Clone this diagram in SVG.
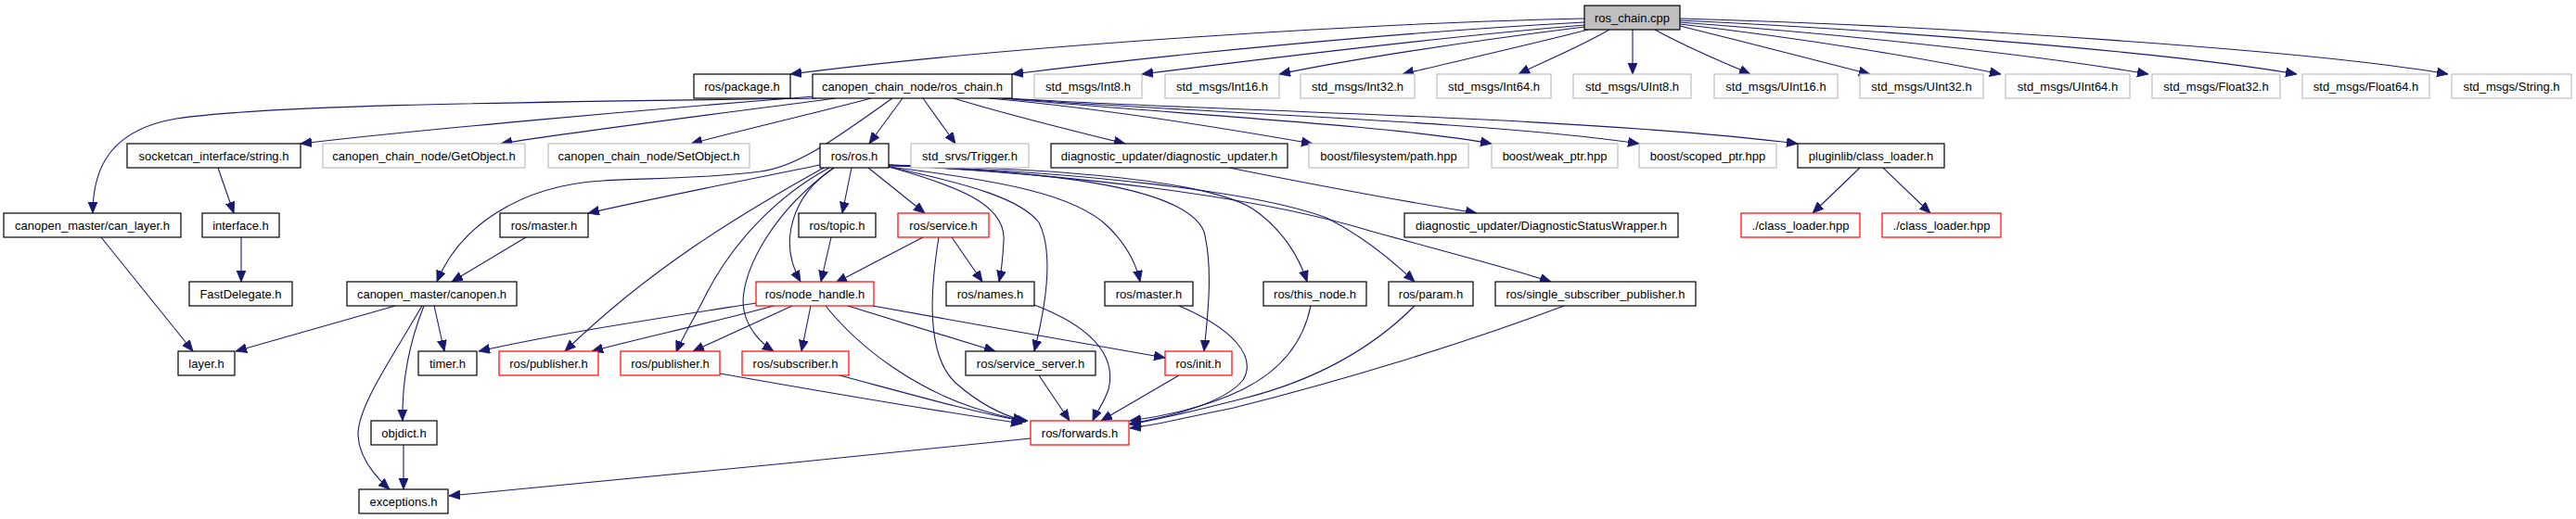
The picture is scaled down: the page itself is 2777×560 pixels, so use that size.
<svg xmlns="http://www.w3.org/2000/svg" width="2777" height="560" viewBox="0 0 2777 560">
<style>
rect{fill:#fff;stroke:#000;stroke-width:1.2}
.g rect{stroke:#bfbfbf}
.r rect{stroke:#ff0000}
.root rect{fill:#bfbfbf}
text{font-family:"Liberation Sans",Arial,Helvetica,sans-serif;font-size:13px;fill:#000;text-anchor:middle}
#edges path{fill:none;stroke:#191970;stroke-width:1.1;marker-end:url(#ah)}
</style>
<defs>
<marker id="ah" markerUnits="userSpaceOnUse" markerWidth="14" markerHeight="12" refX="12" refY="5" orient="auto">
<path d="M0,0 L12,5 L0,10 z" fill="#191970" stroke="#191970" stroke-width="0.8"/>
</marker>
</defs>
<rect x="0" y="0" width="2777" height="560" style="fill:#fff;stroke:none"/>
<g id="edges">
<path d="M1708,20 C1500,24 1100,48 852,80"/>
<path d="M1708,24 C1500,35 1250,60 1091,80"/>
<path d="M1708,27 C1550,40 1350,65 1231,80"/>
<path d="M1708,29 C1580,45 1450,65 1379,80"/>
<path d="M1712,32 C1650,48 1570,66 1512,80"/>
<path d="M1735,32 C1700,52 1665,66 1637,80"/>
<path d="M1760,32 L1760,80"/>
<path d="M1784,32 C1820,52 1855,66 1887,80"/>
<path d="M1811,28 C1880,45 1960,66 2016,80"/>
<path d="M1811,26 C1950,42 2080,64 2157,80"/>
<path d="M1811,24 C2000,38 2200,60 2316,80"/>
<path d="M1811,22 C2050,33 2350,58 2476,80"/>
<path d="M1811,20 C2100,28 2500,55 2639,80"/>
<path d="M880,106 C600,110 300,112 190,128 C120,140 100,180 100,230"/>
<path d="M878,104 C700,118 450,140 324,155"/>
<path d="M901,106 C780,122 620,142 540,155"/>
<path d="M939,106 C880,122 800,140 745,155"/>
<path d="M962,106 C900,150 860,180 820,185 C760,193 700,192 650,195 C560,200 495,245 471,304"/>
<path d="M973,106 L937,155"/>
<path d="M995,106 L1030,155"/>
<path d="M1028,106 C1090,125 1160,142 1213,155"/>
<path d="M1066,106 C1200,118 1330,140 1415,155"/>
<path d="M1080,106 C1250,122 1500,135 1608,155"/>
<path d="M1085,106 C1250,120 1600,130 1767,155"/>
<path d="M1088,106 C1250,118 1700,125 1938,155"/>
<path d="M235,181 L252,230"/>
<path d="M260,256 L260,304"/>
<path d="M109,256 L208,379"/>
<path d="M426,330 L254,379"/>
<path d="M468,330 L479,379"/>
<path d="M457,330 C445,360 433,400 434,454"/>
<path d="M455,330 C420,390 385,440 386,470 C387,490 400,510 420,528"/>
<path d="M435,480 L435,528"/>
<path d="M1111,473 C900,495 700,515 484,535"/>
<path d="M567,256 L487,304"/>
<path d="M884,178 C800,195 700,215 634,230"/>
<path d="M888,181 C800,230 700,290 609,379"/>
<path d="M894,181 C840,210 790,260 760,320 C745,350 735,365 729,380"/>
<path d="M899,181 C855,210 838,260 863,304"/>
<path d="M899,181 C830,230 795,300 802,335 C806,355 820,370 834,379"/>
<path d="M918,181 L908,230"/>
<path d="M936,181 L997,230"/>
<path d="M958,180 C1030,200 1085,220 1082,260 C1081,280 1079,295 1077,304"/>
<path d="M958,180 C1050,200 1100,215 1120,240 C1135,270 1130,320 1115,379"/>
<path d="M958,180 C1080,195 1160,210 1195,245 C1215,265 1225,285 1229,304"/>
<path d="M958,179 C1150,185 1280,205 1298,250 C1308,290 1302,340 1298,379"/>
<path d="M958,178 C1150,182 1300,195 1350,225 C1380,245 1400,275 1409,304"/>
<path d="M958,178 C1150,185 1350,205 1430,235 C1470,255 1505,285 1525,304"/>
<path d="M958,178 C1150,188 1350,210 1480,250 C1560,272 1630,290 1672,304"/>
<path d="M1325,181 C1420,200 1530,220 1592,230"/>
<path d="M896,256 L885,304"/>
<path d="M995,256 L901,305"/>
<path d="M1026,256 L1059,304"/>
<path d="M1012,256 C1005,300 995,380 1030,413 C1055,435 1080,448 1104,454"/>
<path d="M2005,181 L1954,230"/>
<path d="M2030,181 L2081,230"/>
<path d="M815,327 C700,345 600,360 516,379"/>
<path d="M834,330 C760,350 690,365 638,379"/>
<path d="M854,330 L747,379"/>
<path d="M874,330 L864,379"/>
<path d="M890,330 C930,380 990,420 1050,440 C1075,448 1090,452 1108,454"/>
<path d="M914,330 L1073,379"/>
<path d="M941,330 C1050,350 1180,372 1256,386"/>
<path d="M776,403 C900,425 1020,445 1102,457"/>
<path d="M905,405 C980,425 1050,445 1106,455"/>
<path d="M1120,405 L1153,454"/>
<path d="M1115,329 C1170,350 1205,380 1195,420 C1190,435 1182,445 1178,454"/>
<path d="M1271,405 L1187,454"/>
<path d="M1271,330 C1330,355 1355,385 1340,410 C1320,435 1260,450 1218,457"/>
<path d="M1413,330 C1405,370 1380,400 1340,420 C1300,440 1250,450 1218,454"/>
<path d="M1525,330 C1480,375 1420,410 1340,430 C1290,443 1250,452 1218,458"/>
<path d="M1686,330 C1580,370 1450,410 1330,440 C1280,450 1250,458 1218,462"/>
</g>
<g id="n_ros_chain_cpp" class="root"><rect x="1708" y="6" width="103" height="26"/><text x="1759.5" y="23.5">ros_chain.cpp</text></g>
<g id="n_package"><rect x="748" y="80" width="104" height="26"/><text x="800" y="97.5">ros/package.h</text></g>
<g id="n_ros_chain_h"><rect x="876" y="80" width="215" height="26"/><text x="983.5" y="97.5">canopen_chain_node/ros_chain.h</text></g>
<g id="n_int8" class="g"><rect x="1115" y="80" width="116" height="26"/><text x="1173" y="97.5">std_msgs/Int8.h</text></g>
<g id="n_int16" class="g"><rect x="1256" y="80" width="123" height="26"/><text x="1317.5" y="97.5">std_msgs/Int16.h</text></g>
<g id="n_int32" class="g"><rect x="1402" y="80" width="123" height="26"/><text x="1463.5" y="97.5">std_msgs/Int32.h</text></g>
<g id="n_int64" class="g"><rect x="1549" y="80" width="123" height="26"/><text x="1610.5" y="97.5">std_msgs/Int64.h</text></g>
<g id="n_uint8" class="g"><rect x="1696" y="80" width="127" height="26"/><text x="1759.5" y="97.5">std_msgs/UInt8.h</text></g>
<g id="n_uint16" class="g"><rect x="1848" y="80" width="133" height="26"/><text x="1914.5" y="97.5">std_msgs/UInt16.h</text></g>
<g id="n_uint32" class="g"><rect x="2005" y="80" width="133" height="26"/><text x="2071.5" y="97.5">std_msgs/UInt32.h</text></g>
<g id="n_uint64" class="g"><rect x="2162" y="80" width="134" height="26"/><text x="2229" y="97.5">std_msgs/UInt64.h</text></g>
<g id="n_float32" class="g"><rect x="2320" y="80" width="138" height="26"/><text x="2389" y="97.5">std_msgs/Float32.h</text></g>
<g id="n_float64" class="g"><rect x="2482" y="80" width="137" height="26"/><text x="2550.5" y="97.5">std_msgs/Float64.h</text></g>
<g id="n_string" class="g"><rect x="2643" y="80" width="129" height="26"/><text x="2707.5" y="97.5">std_msgs/String.h</text></g>
<g id="n_sc_string"><rect x="137" y="155" width="187" height="26"/><text x="230.5" y="172.5">socketcan_interface/string.h</text></g>
<g id="n_getobject" class="g"><rect x="348" y="155" width="218" height="26"/><text x="457" y="172.5">canopen_chain_node/GetObject.h</text></g>
<g id="n_setobject" class="g"><rect x="591" y="155" width="217" height="26"/><text x="699.5" y="172.5">canopen_chain_node/SetObject.h</text></g>
<g id="n_ros_h"><rect x="884" y="155" width="74" height="26"/><text x="921" y="172.5">ros/ros.h</text></g>
<g id="n_trigger" class="g"><rect x="982" y="155" width="127" height="26"/><text x="1045.5" y="172.5">std_srvs/Trigger.h</text></g>
<g id="n_diag_updater"><rect x="1133" y="155" width="255" height="26"/><text x="1260.5" y="172.5">diagnostic_updater/diagnostic_updater.h</text></g>
<g id="n_path" class="g"><rect x="1411" y="155" width="172" height="26"/><text x="1497" y="172.5">boost/filesystem/path.hpp</text></g>
<g id="n_weak" class="g"><rect x="1608" y="155" width="136" height="26"/><text x="1676" y="172.5">boost/weak_ptr.hpp</text></g>
<g id="n_scoped" class="g"><rect x="1767" y="155" width="148" height="26"/><text x="1841" y="172.5">boost/scoped_ptr.hpp</text></g>
<g id="n_pluginlib"><rect x="1938" y="155" width="158" height="26"/><text x="2017" y="172.5">pluginlib/class_loader.h</text></g>
<g id="n_can_layer"><rect x="4" y="230" width="191" height="26"/><text x="99.5" y="247.5">canopen_master/can_layer.h</text></g>
<g id="n_interface"><rect x="218" y="230" width="83" height="26"/><text x="259.5" y="247.5">interface.h</text></g>
<g id="n_master_a"><rect x="539" y="230" width="95" height="26"/><text x="586.5" y="247.5">ros/master.h</text></g>
<g id="n_topic"><rect x="861" y="230" width="83" height="26"/><text x="902.5" y="247.5">ros/topic.h</text></g>
<g id="n_service" class="r"><rect x="968" y="230" width="98" height="26"/><text x="1017" y="247.5">ros/service.h</text></g>
<g id="n_dsw"><rect x="1514" y="230" width="295" height="26"/><text x="1661.5" y="247.5">diagnostic_updater/DiagnosticStatusWrapper.h</text></g>
<g id="n_cl1" class="r"><rect x="1877" y="230" width="128" height="26"/><text x="1941" y="247.5">./class_loader.hpp</text></g>
<g id="n_cl2" class="r"><rect x="2029" y="230" width="128" height="26"/><text x="2093" y="247.5">./class_loader.hpp</text></g>
<g id="n_fastdelegate"><rect x="204" y="304" width="111" height="26"/><text x="259.5" y="321.5">FastDelegate.h</text></g>
<g id="n_canopen"><rect x="374" y="304" width="183" height="26"/><text x="465.5" y="321.5">canopen_master/canopen.h</text></g>
<g id="n_node_handle" class="r"><rect x="815" y="304" width="127" height="26"/><text x="878.5" y="321.5">ros/node_handle.h</text></g>
<g id="n_names"><rect x="1020" y="304" width="95" height="26"/><text x="1067.5" y="321.5">ros/names.h</text></g>
<g id="n_master_b"><rect x="1191" y="304" width="95" height="26"/><text x="1238.5" y="321.5">ros/master.h</text></g>
<g id="n_this_node"><rect x="1362" y="304" width="111" height="26"/><text x="1417.5" y="321.5">ros/this_node.h</text></g>
<g id="n_param"><rect x="1497" y="304" width="91" height="26"/><text x="1542.5" y="321.5">ros/param.h</text></g>
<g id="n_ssp"><rect x="1612" y="304" width="216" height="26"/><text x="1720" y="321.5">ros/single_subscriber_publisher.h</text></g>
<g id="n_layer"><rect x="192" y="379" width="61" height="26"/><text x="222.5" y="396.5">layer.h</text></g>
<g id="n_timer"><rect x="451" y="379" width="63" height="26"/><text x="482.5" y="396.5">timer.h</text></g>
<g id="n_pub1" class="r"><rect x="538" y="379" width="107" height="26"/><text x="591.5" y="396.5">ros/publisher.h</text></g>
<g id="n_pub2" class="r"><rect x="669" y="379" width="107" height="26"/><text x="722.5" y="396.5">ros/publisher.h</text></g>
<g id="n_subscriber" class="r"><rect x="800" y="379" width="115" height="26"/><text x="857.5" y="396.5">ros/subscriber.h</text></g>
<g id="n_service_server"><rect x="1041" y="379" width="140" height="26"/><text x="1111" y="396.5">ros/service_server.h</text></g>
<g id="n_init" class="r"><rect x="1256" y="379" width="72" height="26"/><text x="1292" y="396.5">ros/init.h</text></g>
<g id="n_objdict"><rect x="400" y="454" width="71" height="26"/><text x="435.5" y="471.5">objdict.h</text></g>
<g id="n_forwards" class="r"><rect x="1111" y="454" width="106" height="26"/><text x="1164" y="471.5">ros/forwards.h</text></g>
<g id="n_exceptions"><rect x="387" y="528" width="96" height="26"/><text x="435" y="545.5">exceptions.h</text></g>
</svg>
